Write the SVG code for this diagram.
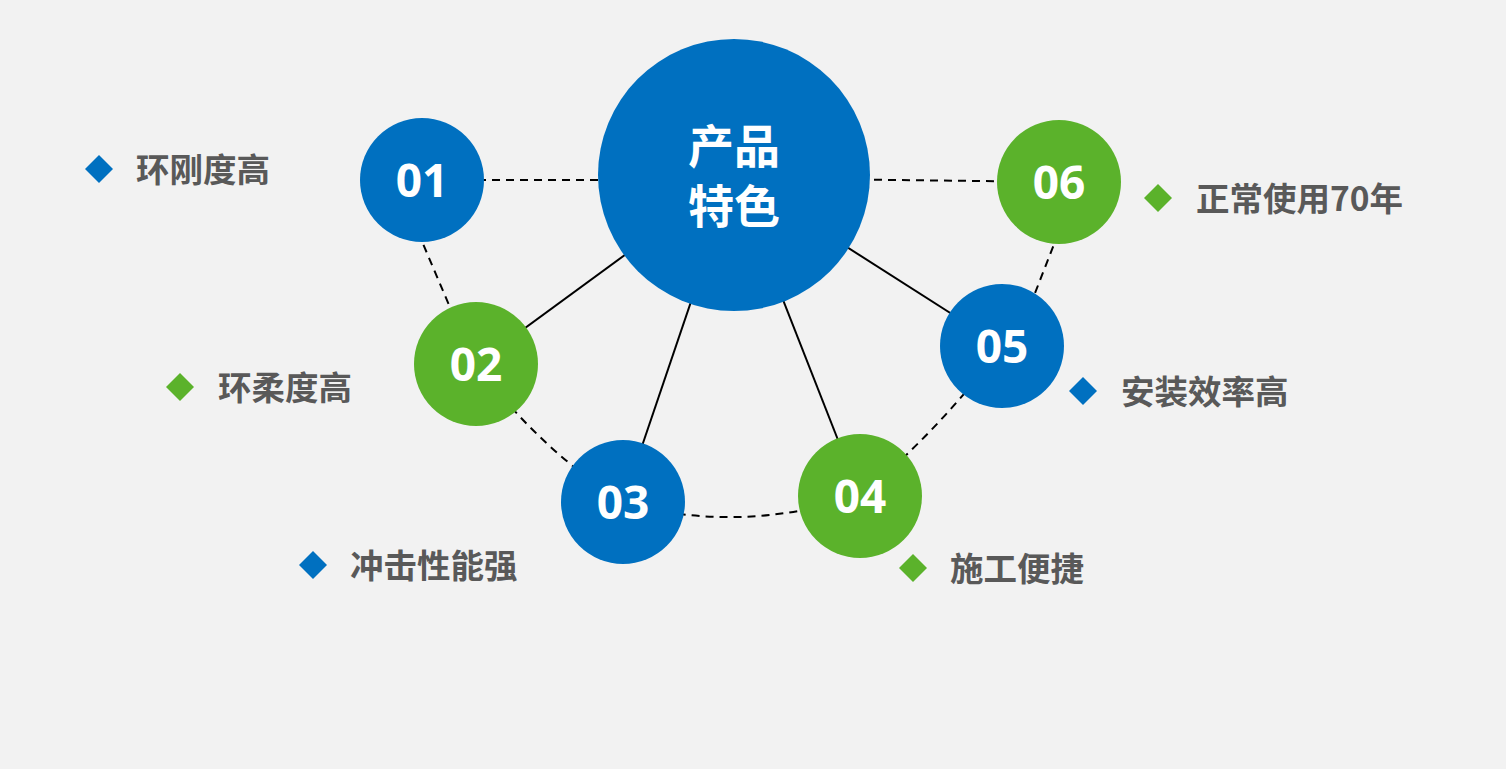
<svg xmlns="http://www.w3.org/2000/svg" width="1506" height="769" viewBox="0 0 1506 769">
<style>
.blue{fill:#0070C0}
.green{fill:#5BB22B}
.num{font-family:"Open Sans","Noto Sans",sans-serif;font-weight:bold;font-size:46px;fill:#fff;text-anchor:middle;dominant-baseline:central}
.ctr{font-family:"Noto Sans CJK SC",sans-serif;font-weight:bold;font-size:46px;fill:#fff;text-anchor:middle}
.lbl{font-family:"Noto Sans CJK SC",sans-serif;font-weight:bold;font-size:33.5px;fill:#595959;dominant-baseline:central}
.dash{fill:none;stroke:#000;stroke-width:2;stroke-dasharray:8 6}
.solid{fill:none;stroke:#000;stroke-width:2}
</style>
<rect width="1506" height="769" fill="#F2F2F2"/>
<g id="connectors">
<line class="dash" x1="422" y1="180" x2="734" y2="180"/>
<path class="dash" d="M734,178 L1059,182"/>
<line class="dash" x1="418" y1="232" x2="452" y2="312"/>
<path class="dash" d="M476,364 Q540,450 623,502"/>
<path class="dash" d="M623,502 Q735,535 860,496"/>
<path class="dash" d="M860,496 Q940,430 1002,346"/>
<line class="dash" x1="1030" y1="306" x2="1058" y2="234"/>
<line class="solid" x1="734" y1="175" x2="476" y2="364"/>
<line class="solid" x1="734" y1="175" x2="623" y2="502"/>
<line class="solid" x1="734" y1="175" x2="860" y2="496"/>
<line class="solid" x1="734" y1="175" x2="1002" y2="346"/>
</g>
<g id="center">
<circle class="blue" cx="734" cy="175" r="136"/>
<text class="ctr" x="734" y="163"><tspan x="734" y="163">产品</tspan><tspan x="734" y="223">特色</tspan></text>
</g>
<g id="n01">
<circle class="blue" cx="422" cy="180" r="62"/>
<text class="num" x="422" y="179">01</text>
</g>
<g id="n02">
<circle class="green" cx="476" cy="364" r="62"/>
<text class="num" x="476" y="363">02</text>
</g>
<g id="n03">
<circle class="blue" cx="623" cy="502" r="62"/>
<text class="num" x="623" y="501">03</text>
</g>
<g id="n04">
<circle class="green" cx="860" cy="496" r="62"/>
<text class="num" x="860" y="495">04</text>
</g>
<g id="n05">
<circle class="blue" cx="1002" cy="346" r="62"/>
<text class="num" x="1002" y="345">05</text>
</g>
<g id="n06">
<circle class="green" cx="1059" cy="182" r="62"/>
<text class="num" x="1059" y="181">06</text>
</g>
<g id="l01">
<polygon class="blue" points="99,155 113,169 99,183 85,169"/>
<text class="lbl" x="136" y="167">环刚度高</text>
</g>
<g id="l02">
<polygon class="green" points="180,373 194,387 180,401 166,387"/>
<text class="lbl" x="218" y="385">环柔度高</text>
</g>
<g id="l03">
<polygon class="blue" points="313,551 327,565 313,579 299,565"/>
<text class="lbl" x="350" y="563">冲击性能强</text>
</g>
<g id="l04">
<polygon class="green" points="913,554 927,568 913,582 899,568"/>
<text class="lbl" x="950" y="566">施工便捷</text>
</g>
<g id="l05">
<polygon class="blue" points="1083,377 1097,391 1083,405 1069,391"/>
<text class="lbl" x="1121" y="389">安装效率高</text>
</g>
<g id="l06">
<polygon class="green" points="1158,184 1172,198 1158,212 1144,198"/>
<text class="lbl" x="1196" y="196">正常使用70年</text>
</g>
</svg>
